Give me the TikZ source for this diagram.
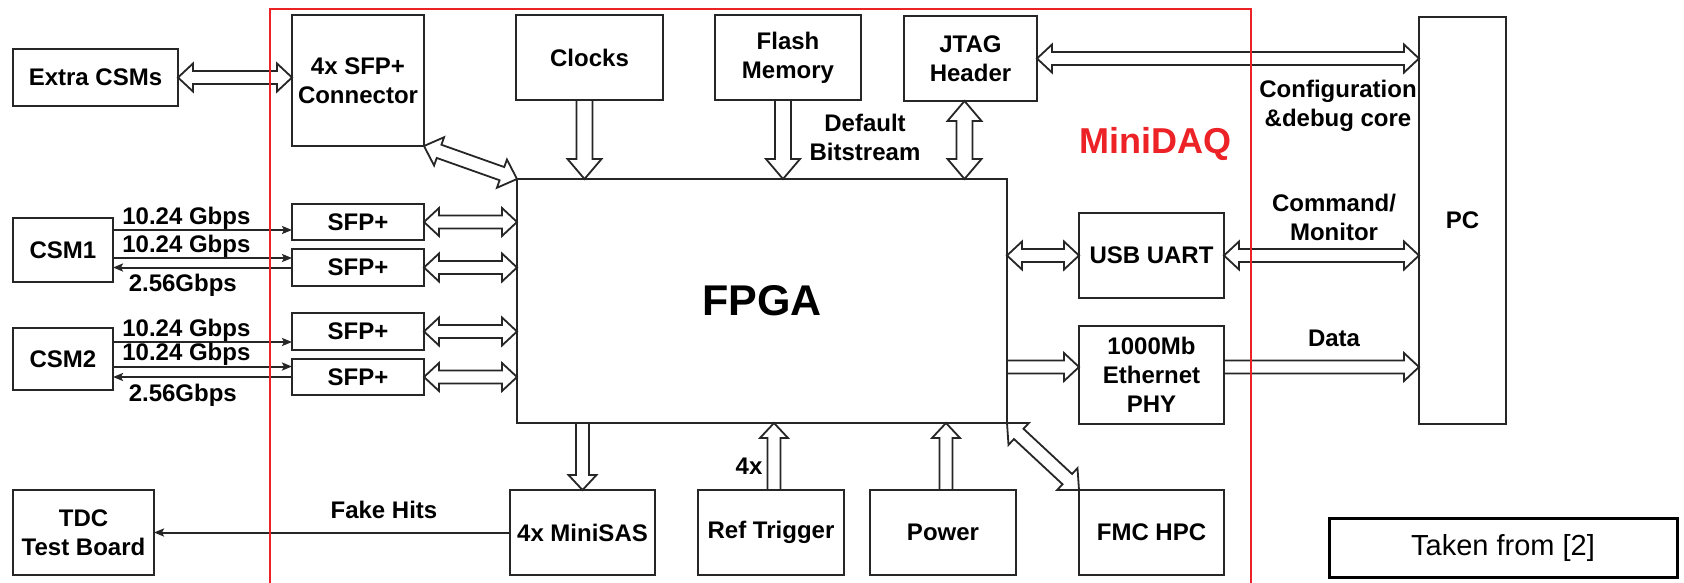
\documentclass[tikz,border=0pt]{standalone}
\usepackage{fontspec}
\setmainfont{Liberation Sans}
\usetikzlibrary{arrows.meta,positioning,calc}

\definecolor{framered}{RGB}{236,34,38}

\begin{document}
\begin{tikzpicture}[
    x=1pt, y=-1pt,
    every node/.style={font=\bfseries\fontsize{24}{29}\selectfont},
    box/.style={draw=black!85, line width=2.1pt, align=center, inner sep=2pt, outer sep=0pt},
    sfp/.style={box, minimum width=132pt, minimum height=36.5pt},
    lbl/.style={align=center, inner sep=0pt},
    thinarr/.style={-{Stealth[length=10pt, width=8pt, inset=2pt]}, line width=2pt, draw=black!85},
    hsz/.code={\def\fatsw{6.5pt}\def\fathw{14pt}\def\fathl{15pt}},
    vsz/.code={\def\fatsw{8pt}\def\fathw{17pt}\def\fathl{20pt}},
    dsz/.code={\def\fatsw{7pt}\def\fathw{15pt}\def\fathl{16pt}},
    fatarr/.style={hsz, draw=black!85, line width=1.8pt, fill=white, line join=miter},
    fatone/.style={fatarr, to path={
        ($(\tikztostart)!\fatsw!90:(\tikztotarget)$)
        -- ($(\tikztotarget)!\fathl!(\tikztostart)!\fatsw!-90:(\tikztostart)$)
        -- ($(\tikztotarget)!\fathl!(\tikztostart)!\fathw!-90:(\tikztostart)$)
        -- (\tikztotarget)
        -- ($(\tikztotarget)!\fathl!(\tikztostart)!\fathw!90:(\tikztostart)$)
        -- ($(\tikztotarget)!\fathl!(\tikztostart)!\fatsw!90:(\tikztostart)$)
        -- ($(\tikztostart)!\fatsw!-90:(\tikztotarget)$)
        -- cycle}},
    fatboth/.style={fatarr, to path={
        (\tikztostart)
        -- ($(\tikztostart)!\fathl!(\tikztotarget)!\fathw!90:(\tikztotarget)$)
        -- ($(\tikztostart)!\fathl!(\tikztotarget)!\fatsw!90:(\tikztotarget)$)
        -- ($(\tikztotarget)!\fathl!(\tikztostart)!\fatsw!-90:(\tikztostart)$)
        -- ($(\tikztotarget)!\fathl!(\tikztostart)!\fathw!-90:(\tikztostart)$)
        -- (\tikztotarget)
        -- ($(\tikztotarget)!\fathl!(\tikztostart)!\fathw!90:(\tikztostart)$)
        -- ($(\tikztotarget)!\fathl!(\tikztostart)!\fatsw!90:(\tikztostart)$)
        -- ($(\tikztostart)!\fathl!(\tikztotarget)!\fatsw!-90:(\tikztotarget)$)
        -- ($(\tikztostart)!\fathl!(\tikztotarget)!\fathw!-90:(\tikztotarget)$)
        -- cycle}}
  ]
  \useasboundingbox (0,0) rectangle (1684,582);
  \fill[white] (0,0) rectangle (1684,582);

  % outside the board
  \node[box, minimum width=165pt, minimum height=57pt] (extra) at (95.5,77.5) {Extra CSMs};
  \node[box, minimum width=100pt, minimum height=64pt] (csm1) at (63,250) {CSM1};
  \node[box, minimum width=100pt, minimum height=62pt] (csm2) at (63,359) {CSM2};
  \node[box, minimum width=141pt, minimum height=85pt] (tdc) at (83.5,532.5) {TDC\\Test Board};
  \node[box, minimum width=87pt, minimum height=407pt] (pc) at (1462.5,220.5) {PC};
  \node[draw=black, line width=3pt, minimum width=348pt, minimum height=59pt,
        font=\fontsize{29}{34}\selectfont] (src) at (1503,547.5) {Taken from [2]};

  % MiniDAQ board
  \node[box, minimum width=490pt, minimum height=244pt,
        font=\bfseries\fontsize{43}{50}\selectfont] (fpga) at (762,301) {FPGA};
  \node[box, minimum width=132pt, minimum height=131pt] (conn) at (358,80.5) {4x SFP+\\Connector};
  \node[box, minimum width=147pt, minimum height=85pt] (clocks) at (589.5,57.5) {Clocks};
  \node[box, minimum width=146pt, minimum height=85pt] (flash) at (788,57.5) {Flash\\Memory};
  \node[box, minimum width=133pt, minimum height=85pt] (jtag) at (970.5,58.5) {JTAG\\Header};
  \node[sfp] (sfp1) at (358,222) {SFP+};
  \node[sfp, below=9pt of sfp1] (sfp2) {SFP+};
  \node[sfp] (sfp3) at (358,331.5) {SFP+};
  \node[sfp, below=9pt of sfp3] (sfp4) {SFP+};
  \node[box, minimum width=145pt, minimum height=85pt] (usb) at (1151.5,255.5) {USB UART};
  \node[box, minimum width=145pt, minimum height=98pt] (eth) at (1151.5,375) {1000Mb\\Ethernet\\PHY};
  \node[box, minimum width=145pt, minimum height=85pt] (minisas) at (582.5,532.5) {4x MiniSAS};
  \node[box, minimum width=146pt, minimum height=85pt, right=43pt of minisas] (reftrig) {Ref Trigger};
  \node[box, minimum width=146pt, minimum height=85pt, right=26pt of reftrig] (power) {Power};
  \node[box, minimum width=145pt, minimum height=85pt, right=63pt of power] (fmc) {FMC HPC};

  % wide arrows
  \draw[fatboth] (extra.east) to (extra.east -| conn.west);
  \draw[fatboth, dsz] (conn.south east) to (fpga.north west);
  \foreach \s in {sfp1,sfp2,sfp3,sfp4}
    \draw[fatboth] (\s.east) to (\s.east -| fpga.west);
  \coordinate (clk) at ([xshift=-5pt]clocks.south);
  \coordinate (fls) at ([xshift=-5pt]flash.south);
  \coordinate (jtg) at ([xshift=-6pt]jtag.south);
  \draw[fatone, vsz] (clk) to (clk |- fpga.north);
  \draw[fatone, vsz] (fls) to (fls |- fpga.north);
  \draw[fatboth, vsz] (jtg) to (jtg |- fpga.north);
  \draw[fatboth] (jtag.east) to (jtag.east -| pc.west);
  \draw[fatboth] (usb.west -| fpga.east) to (usb.west);
  \draw[fatboth] (usb.east) to (usb.east -| pc.west);
  \coordinate (ethin) at ([yshift=8pt]eth.west);
  \coordinate (ethout) at ([yshift=8pt]eth.east);
  \draw[fatone] (ethin -| fpga.east) to (ethin);
  \draw[fatone] (ethout) to (ethout -| pc.west);
  \draw[fatone] (minisas.north |- fpga.south) to (minisas.north);
  \coordinate (rtg) at ([xshift=3pt]reftrig.north);
  \coordinate (pwr) at ([xshift=3pt]power.north);
  \draw[fatone] (rtg) to (rtg |- fpga.south);
  \draw[fatone] (pwr) to (pwr |- fpga.south);
  \draw[fatboth, dsz] (fpga.south east) to (fmc.north west);

  \node[lbl] (bits) at (865,137) {Default\\Bitstream};
  \node[lbl] (cfg) at (1338,106) {Configuration\\\&debug core};
  \node[lbl] (cmd) at (1334,217) {Command/\\Monitor};
  \node[lbl] (data) at (1334,338) {Data};
  \node[lbl] (four) at (749,466) {4x};

  % serial links
  \coordinate (a1) at ([yshift=-8pt]sfp1.west);
  \coordinate (a2) at ([yshift=9.5pt]sfp2.west);
  \coordinate (a3) at (sfp2.west);
  \coordinate (b1) at ([yshift=-10.5pt]sfp3.west);
  \coordinate (b2) at ([yshift=10.5pt]sfp4.west);
  \coordinate (b3) at (sfp4.west);
  \draw[thinarr] (a1 -| csm1.east) -- node[pos=.41, above, inner sep=0pt] {10.24 Gbps} (a1);
  \draw[thinarr] (a2 -| csm1.east) -- node[pos=.41, above, inner sep=0pt] {10.24 Gbps} (a2);
  \draw[thinarr] (a3) -- node[pos=.61, below=6pt, inner sep=0pt] {2.56Gbps} (a3 -| csm1.east);
  \draw[thinarr] (b1 -| csm2.east) -- node[pos=.41, above, inner sep=0pt] {10.24 Gbps} (b1);
  \draw[thinarr] (b2 -| csm2.east) -- node[pos=.41, above, inner sep=0pt] {10.24 Gbps} (b2);
  \draw[thinarr] (b3) -- node[pos=.61, below=6pt, inner sep=0pt] {2.56Gbps} (b3 -| csm2.east);
  \draw[thinarr] (minisas.west) -- node[pos=.354, above=13pt, inner sep=0pt] {Fake Hits} (minisas.west -| tdc.east);

  % board outline
  \draw[framered, line width=2pt] (270,584) |- (1251,9) -- (1251,584);
  \node[font=\bfseries\fontsize{36}{43}\selectfont, text=framered] (minidaq) at (1155,144) {MiniDAQ};
\end{tikzpicture}
\end{document}
